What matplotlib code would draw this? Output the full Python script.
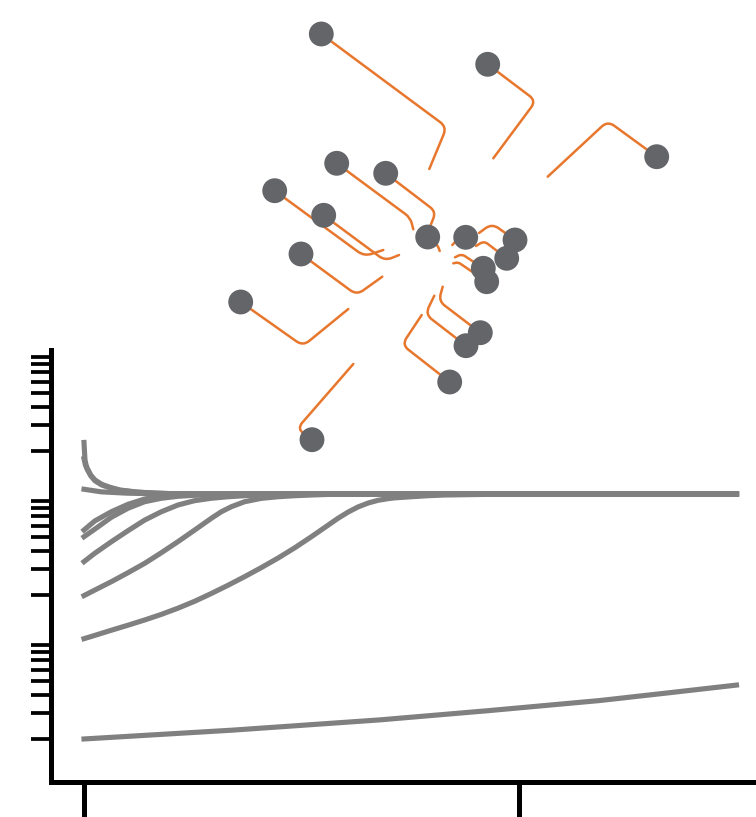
import math
import numpy as np
import matplotlib
matplotlib.use("Agg")
import matplotlib.pyplot as plt
from matplotlib.ticker import LogLocator, NullLocator, FixedLocator, NullFormatter

W, H, DPI = 756, 817, 100

# ---------------- growth curves (log y axis) ----------------
a_x = [0, 0.01, 0.023, 0.05, 0.076, 0.154, 0.253, 0.407, 0.598, 0.828, 1.211, 1.593, 1.977, 3.0, 15]
a_y = [228, 200, 172, 158, 150.7, 135.5, 125, 116.8, 111.3, 106.6, 103.2, 101.6, 100.6, 100.1, 100]

b_x = [0, 0.03, 0.07, 0.154, 0.253, 0.407, 0.598, 0.828, 1.211, 1.6, 2.0, 3.0, 15]
b_y = [176, 160, 149, 134, 123.5, 115.5, 110.5, 106, 103, 101.5, 100.6, 100.1, 100]

c_x = [0, 0.4, 1.0, 1.6, 2.5, 15]
c_y = [107.9, 103.5, 101.3, 100.4, 100.1, 100]

d_x = [0, 0.245, 0.628, 1.011, 1.395, 1.778, 2.161, 2.8, 3.5, 15]
d_y = [56.2, 64.9, 75.3, 84.8, 92.3, 96.4, 98.4, 99.4, 99.8, 100]

e_x = [0, 0.245, 0.628, 1.011, 1.395, 1.778, 2.161, 2.544, 2.927, 4.0, 15]
e_y = [50.5, 56.9, 68.9, 79.6, 88.4, 93.4, 96.4, 98.0, 98.9, 99.8, 100]

f_x = [0, 0.245, 0.628, 1.011, 1.395, 1.778, 2.161, 2.544, 2.927, 3.31, 3.693, 4.077, 4.6, 6.0, 15]
f_y = [33.9, 38.7, 46.6, 55.6, 65.9, 75.3, 83.9, 89.9, 93.4, 95.7, 97.3, 98.4, 99.2, 99.8, 100]

g_x = [0, 0.245, 0.628, 1.011, 1.395, 1.778, 2.161, 2.544, 2.927, 3.157, 3.387, 3.693,
       4.077, 4.46, 4.843, 5.226, 5.609, 7.0, 15]
g_y = [19.7, 21.5, 24.6, 28.4, 33.0, 39.1, 46.7, 56.2, 67.8, 75.3, 81.6, 88.4,
       93.3, 95.7, 97.3, 98.4, 99.3, 99.9, 100]

h_x = [0, 0.245, 0.628, 1.011, 1.395, 1.778, 2.161, 2.544, 2.927, 3.31, 3.693, 4.077,
       4.46, 4.843, 5.226, 5.609, 5.839, 6.069, 6.299, 6.529, 6.759, 7.0, 7.142, 7.525,
       7.908, 8.291, 9.5, 15]
h_y = [9.89, 10.42, 11.32, 12.27, 13.34, 14.59, 16.11, 17.99, 20.37, 23.23, 26.67, 30.83,
       35.89, 42.27, 50.47, 60.67, 67.8, 74.8, 81.3, 86.5, 90.4, 92.9, 94.0, 95.7,
       97.3, 98.4, 99.6, 100]

i_x = [0, 3.4, 6.8, 9.3, 11.86, 13.4, 15]
i_y = [1.99, 2.29, 2.70, 3.13, 3.68, 4.15, 4.71]

x_ticks = [0, 10]

# ---------------- labelled points (leader lines) ----------------
pt_x = [321.3, 487.7, 656.7, 336.7, 385.7, 274.7, 323.7, 427.7, 465.7, 515.0,
        506.7, 483.3, 486.7, 301.0, 240.7, 480.3, 466.0, 449.7, 312.0]
pt_y = [34.0, 64.3, 156.7, 163.3, 173.3, 190.7, 215.3, 237.0, 237.3, 240.0,
        258.3, 268.3, 281.7, 254.0, 302.0, 332.7, 345.7, 382.0, 439.7]
lab_x = [429.3, 493.3, 547.7, 413.3, 430.7, 383.3, 399.0, 439.7, 452.3, 479.0,
         476.0, 455.0, 453.3, 382.3, 348.3, 442.7, 434.3, 421.7, 353.3]
lab_y = [169.0, 158.3, 176.7, 229.3, 225.0, 250.0, 255.0, 251.0, 245.0, 233.0,
         246.0, 257.3, 263.3, 276.7, 309.0, 286.7, 295.7, 315.0, 364.0]
elb_x = [446.7, 536.0, 607.7, 410.3, 436.0, 364.3, 385.0, 437.5, 462.0, 492.0,
         484.0, 461.7, 458.3, 356.7, 303.0, 438.7, 425.3, 402.0, 297.0]
elb_y = [127.0, 100.8, 121.0, 217.7, 211.7, 256.3, 260.7, 245.0, 234.5, 223.5,
         241.0, 254.0, 262.3, 295.0, 346.0, 301.0, 314.3, 344.7, 428.7]

CURVE = "#808080"
POINT = "#646569"
ORANGE = "#E8772E"

fig = plt.figure(figsize=(W / DPI, H / DPI), dpi=DPI)
fig.patch.set_facecolor("white")

# main axes
left_px, right_px, top_px, bot_px = 50.7, 756, 350, 782
ax = fig.add_axes([left_px / W, (H - bot_px) / H, (right_px - left_px) / W, (bot_px - top_px) / H])
ax.set_yscale("log")
ax.set_ylim(1, 1000)
px_per_unit = 43.5
ax.set_xlim((left_px - 84) / px_per_unit, (right_px - 84) / px_per_unit)

for xs, ys in [(i_x, i_y), (h_x, h_y), (g_x, g_y), (f_x, f_y), (e_x, e_y),
               (d_x, d_y), (c_x, c_y), (b_x, b_y), (a_x, a_y)]:
    ax.plot(xs, ys, color=CURVE, lw=3.7, solid_joinstyle="round")

for s in ["top", "right"]:
    ax.spines[s].set_visible(False)
for s in ["left", "bottom"]:
    ax.spines[s].set_linewidth(3.6)
    ax.spines[s].set_color("black")

ax.yaxis.set_major_locator(NullLocator())
ax.yaxis.set_minor_locator(LogLocator(base=10, subs=np.arange(2, 10)))
ax.yaxis.set_minor_formatter(NullFormatter())
ax.tick_params(axis="y", which="minor", length=14.2, width=2.7, direction="out", color="black", labelleft=False)
ax.xaxis.set_major_locator(FixedLocator(x_ticks))
ax.xaxis.set_minor_locator(NullLocator())
ax.tick_params(axis="x", which="major", length=30, width=3.6, direction="out", color="black", labelbottom=False)

# overlay axes for labelled points
ov = fig.add_axes([0, 0, 1, 1])
ov.set_xlim(0, W)
ov.set_ylim(H, 0)
ov.axis("off")

T = ov.transData
for px, py, lx, ly, ex, ey in zip(pt_x, pt_y, lab_x, lab_y, elb_x, elb_y):
    A = T.transform((lx, ly))
    E = T.transform((ex, ey))
    P = T.transform((px, py))
    angA = math.degrees(math.atan2(E[1] - A[1], E[0] - A[0]))
    angB = math.degrees(math.atan2(E[1] - P[1], E[0] - P[0]))
    d1 = math.hypot(*(E - A))
    d2 = math.hypot(*(E - P))
    rad = max(0.0, min(8.0, 0.5 * min(d1, d2)))
    ov.annotate("", xy=(px, py), xytext=(lx, ly), xycoords="data", textcoords="data",
                arrowprops=dict(arrowstyle="-", color=ORANGE, lw=1.8, shrinkA=0, shrinkB=0,
                                connectionstyle=f"angle,angleA={angA:.3f},angleB={angB:.3f},rad={rad:.3f}"),
                zorder=2)

ov.scatter(pt_x, pt_y, s=320, color=POINT, edgecolors="none", zorder=5)

fig.savefig("out.png", dpi=DPI, facecolor="white")
